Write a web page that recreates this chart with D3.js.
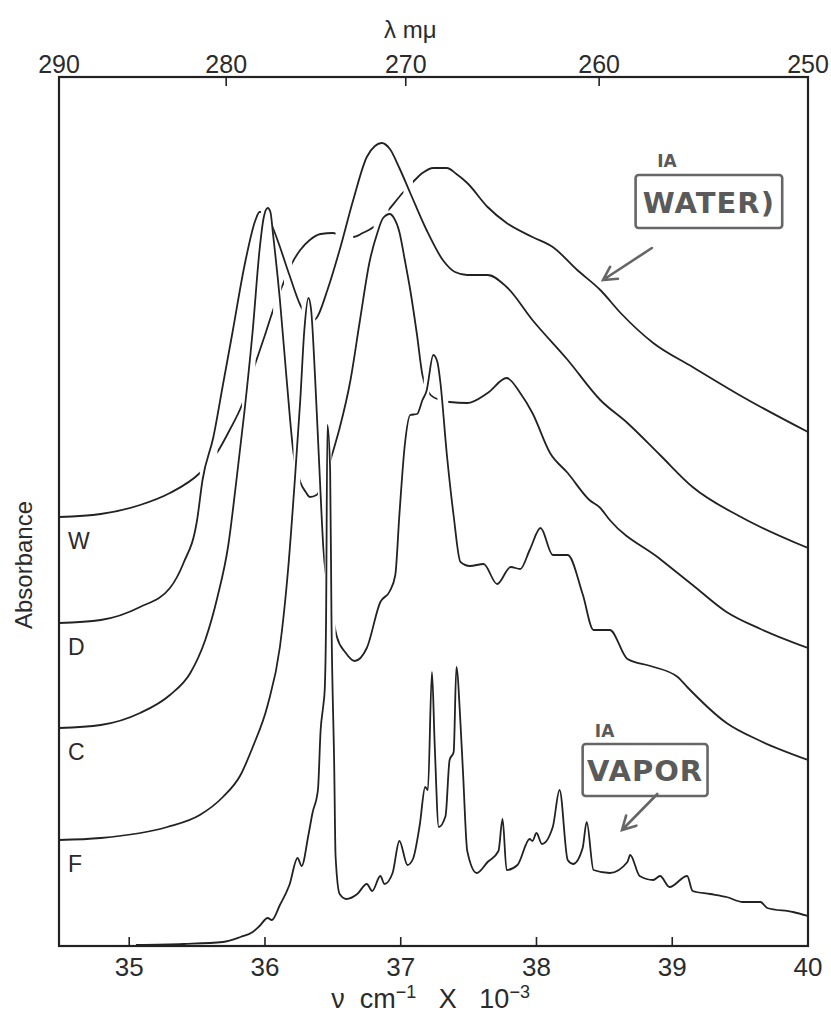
<!doctype html>
<html lang="en">
<head>
<meta charset="utf-8">
<title>Absorbance spectra</title>
<script src="https://d3js.org/d3.v7.min.js"></script>
<style>
  body { margin: 0; background: #fff; }
  text { font-family: "Liberation Sans", Arial, sans-serif; fill: #2b2b2b; }
  .note { font-family: "DejaVu Sans", sans-serif; font-weight: bold; fill: #5a5a5a; }
</style>
</head>
<body>
<div id="chart"></div>
<script>
// ---- data: wavenumber (x 10^3 cm-1), absorbance (arbitrary, curves offset) ----
const nuTicks = [35, 36, 37, 38, 39, 40];
const lambdaTicks = [290, 280, 270, 260, 250];
const curveNames = ["W", "D", "C", "F"];

const curveW = [[34.48,4.29],[34.79,4.32],[35.08,4.41],[35.30,4.53],[35.52,4.73],[35.65,4.94],[35.74,5.16],
  [35.83,5.41],[35.93,5.83],[36.00,6.11],[36.06,6.36],[36.13,6.61],[36.20,6.83],[36.26,6.96],[36.33,7.06],
  [36.41,7.12],[36.50,7.13],[36.58,7.10],[36.65,7.09],[36.72,7.13],[36.80,7.19],[36.91,7.36],[37.02,7.54],
  [37.09,7.64],[37.16,7.73],[37.24,7.78],[37.34,7.78],[37.41,7.72],[37.49,7.63],[37.64,7.39],[37.78,7.23],
  [37.97,7.09],[38.12,6.99],[38.30,6.76],[38.47,6.56],[38.62,6.33],[38.86,6.03],[39.15,5.79],[39.52,5.49],[40.00,5.14]];

const curveD = [[34.48,3.23],[34.79,3.26],[35.08,3.39],[35.30,3.58],[35.40,3.83],[35.50,4.26],[35.54,4.66],
  [35.62,5.09],[35.69,5.61],[35.76,6.13],[35.85,6.81],[35.93,7.26],[35.96,7.34],[36.00,7.34],[36.05,7.21],
  [36.10,7.03],[36.18,6.71],[36.26,6.41],[36.32,6.28],[36.35,6.25],[36.38,6.28],[36.46,6.56],[36.55,6.96],
  [36.65,7.46],[36.75,7.89],[36.81,8.00],[36.86,8.03],[36.92,7.97],[36.99,7.78],[37.07,7.53],[37.19,7.16],
  [37.31,6.86],[37.40,6.74],[37.49,6.71],[37.64,6.71],[37.78,6.59],[37.97,6.26],[38.23,5.86],[38.47,5.46],
  [38.67,5.23],[38.91,4.91],[39.15,4.59],[39.52,4.28],[40.00,3.98]];

const curveC = [[34.48,2.18],[34.79,2.21],[35.08,2.33],[35.30,2.51],[35.45,2.73],[35.56,3.06],[35.65,3.49],
  [35.73,4.01],[35.79,4.66],[35.85,5.36],[35.91,6.16],[35.96,6.96],[35.99,7.28],[36.02,7.38],[36.04,7.34],
  [36.06,7.11],[36.11,6.46],[36.16,5.66],[36.21,4.93],[36.26,4.64],[36.30,4.54],[36.33,4.49],[36.38,4.51],
  [36.44,4.68],[36.50,4.94],[36.55,5.18],[36.63,5.66],[36.70,6.26],[36.77,6.84],[36.83,7.14],[36.87,7.28],
  [36.92,7.32],[36.95,7.28],[36.99,7.14],[37.03,6.86],[37.07,6.56],[37.12,6.11],[37.16,5.71],[37.22,5.51],
  [37.29,5.46],[37.36,5.44],[37.49,5.43],[37.64,5.53],[37.78,5.68],[37.88,5.53],[37.97,5.33],[38.10,4.93],
  [38.23,4.73],[38.39,4.46],[38.47,4.38],[38.54,4.26],[38.91,3.87],[39.15,3.61],[39.40,3.34],[39.65,3.17],[40.00,2.98]];

const curveF = [[34.48,1.06],[34.79,1.08],[35.28,1.19],[35.52,1.31],[35.69,1.49],[35.82,1.71],[35.91,1.99],
  [36.02,2.41],[36.11,2.99],[36.17,3.76],[36.22,4.66],[36.26,5.46],[36.29,6.16],[36.32,6.48],[36.34,6.36],
  [36.37,5.66],[36.40,4.80],[36.43,3.98],[36.48,3.46],[36.53,3.09],[36.59,2.94],[36.66,2.85],[36.75,2.98],
  [36.85,3.44],[36.92,3.55],[36.96,3.71],[36.99,4.31],[37.03,5.01],[37.07,5.31],[37.12,5.32],[37.16,5.46],
  [37.19,5.55],[37.24,5.91],[37.27,5.84],[37.29,5.66],[37.34,4.91],[37.39,4.30],[37.44,3.84],[37.51,3.80],
  [37.61,3.82],[37.71,3.62],[37.81,3.79],[37.88,3.77],[37.95,3.96],[38.03,4.18],[38.12,3.91],[38.23,3.91],
  [38.34,3.52],[38.42,3.16],[38.54,3.16],[38.67,2.87],[38.84,2.80],[39.04,2.69],[39.11,2.59],[39.40,2.23],
  [39.65,2.05],[40.00,1.86]];

const curveVapor = [[35.05,0.01],[35.40,0.02],[35.69,0.04],[35.82,0.09],[35.91,0.14],[35.96,0.20],[36.02,0.28],
  [36.05,0.26],[36.11,0.41],[36.18,0.61],[36.24,0.88],[36.27,0.80],[36.32,1.11],[36.35,1.33],[36.39,1.56],
  [36.41,2.16],[36.43,2.41],[36.44,2.56],[36.45,3.26],[36.46,5.21],[36.48,4.76],[36.49,3.26],[36.51,1.80],
  [36.52,0.90],[36.55,0.52],[36.60,0.47],[36.68,0.52],[36.75,0.62],[36.79,0.55],[36.85,0.70],[36.88,0.62],
  [36.94,0.73],[36.99,1.05],[37.05,0.81],[37.09,0.87],[37.14,1.21],[37.18,1.59],[37.20,1.56],[37.23,2.74],
  [37.25,2.02],[37.28,1.19],[37.33,1.30],[37.36,1.86],[37.39,1.94],[37.41,2.79],[37.44,2.23],[37.46,1.70],
  [37.49,0.95],[37.56,0.73],[37.64,0.84],[37.72,0.95],[37.75,1.27],[37.78,0.76],[37.86,0.81],[37.95,1.07],
  [37.97,1.05],[38.00,1.13],[38.04,1.02],[38.12,1.19],[38.17,1.56],[38.23,0.86],[38.27,0.82],[38.34,0.98],
  [38.37,1.24],[38.42,0.76],[38.54,0.73],[38.67,0.84],[38.69,0.91],[38.76,0.70],[38.86,0.66],[38.91,0.70],
  [38.98,0.59],[39.11,0.70],[39.15,0.55],[39.28,0.52],[39.40,0.49],[39.52,0.44],[39.65,0.44],[39.70,0.38],
  [39.89,0.34],[40.00,0.30]];

// pen lifts where the traces cross each other (wavenumber ranges left blank)
const gapsW = [[35.52,35.65],[35.83,35.93],[36.06,36.12],[36.14,36.20],[36.52,36.65],[36.80,36.91],[37.02,37.09]];
const gapsD = [[35.97,36.06],[36.27,36.37]];
const gapsC = [[36.21,36.26],[36.39,36.49],[37.17,37.21],[37.27,37.35]];
const gapsF = [[36.44,36.52]];

const margin = {top: 77, right: 23, bottom: 71, left: 59},
      width = 831 - margin.left - margin.right,
      height = 1017 - margin.top - margin.bottom;

const svg = d3.select("#chart").append("svg")
  .attr("width", 831).attr("height", 1017)
  .append("g")
  .attr("transform", `translate(${margin.left},${margin.top})`);

const x = d3.scaleLinear().domain([10000 / 290, 40]).range([0, width]);
const y = d3.scaleLinear().domain([0, 8.69]).range([height, 0]);

// frame
svg.append("rect")
  .attr("width", width).attr("height", height)
  .attr("fill", "none").attr("stroke", "#222").attr("stroke-width", 2.2);

// bottom axis (wavenumber)
svg.append("g").selectAll("line").data(nuTicks.slice(0, -1)).join("line")
  .attr("x1", d => x(d)).attr("x2", d => x(d))
  .attr("y1", height).attr("y2", height - 9)
  .attr("stroke", "#222").attr("stroke-width", 1.6);
svg.append("g").selectAll("text").data(nuTicks).join("text")
  .attr("x", d => x(d)).attr("y", height + 30)
  .attr("text-anchor", "middle").style("font-size", "26px")
  .text(d => d);

// top axis (wavelength in m-mu, nonlinear)
svg.append("g").selectAll("line").data(lambdaTicks.slice(1, -1)).join("line")
  .attr("x1", d => x(10000 / d)).attr("x2", d => x(10000 / d))
  .attr("y1", 0).attr("y2", 9)
  .attr("stroke", "#222").attr("stroke-width", 1.6);
svg.append("g").selectAll("text").data(lambdaTicks).join("text")
  .attr("x", d => x(10000 / d)).attr("y", -4)
  .attr("text-anchor", "middle").style("font-size", "25px")
  .text(d => d);

// axis titles
svg.append("text")
  .attr("x", x(37.07)).attr("y", -39)
  .attr("text-anchor", "middle").style("font-size", "24px")
  .text("λ mμ");

const xt = svg.append("text")
  .attr("x", x(37.22)).attr("y", height + 62)
  .attr("text-anchor", "middle").style("font-size", "27px")
  .style("white-space", "pre");
xt.append("tspan").text("ν  cm");
xt.append("tspan").attr("dy", -10).style("font-size", "18px").text("−1");
xt.append("tspan").attr("dy", 10).text("   X   10");
xt.append("tspan").attr("dy", -10).style("font-size", "18px").text("−3");

svg.append("text")
  .attr("transform", `translate(-27,${y(3.81)}) rotate(-90)`)
  .attr("text-anchor", "middle").style("font-size", "24px")
  .text("Absorbance");

// curves
const line = d3.line()
  .x(d => x(d[0])).y(d => y(d[1]))
  .curve(d3.curveMonotoneX);

const traces = [
  {id: "w", data: curveW, gaps: gapsW},
  {id: "d", data: curveD, gaps: gapsD},
  {id: "c", data: curveC, gaps: gapsC},
  {id: "f", data: curveF, gaps: gapsF},
  {id: "v", data: curveVapor, gaps: []}
];

const defs = svg.append("defs");
traces.forEach(t => {
  const ranges = [];
  let start = x.domain()[0];
  t.gaps.forEach(g => { ranges.push([start, g[0]]); start = g[1]; });
  ranges.push([start, x.domain()[1]]);
  defs.append("clipPath").attr("id", "clip-" + t.id)
    .selectAll("rect").data(ranges).join("rect")
      .attr("x", d => x(d[0])).attr("width", d => x(d[1]) - x(d[0]))
      .attr("y", -5).attr("height", height + 10);

  svg.append("path")
    .datum(t.data)
    .attr("clip-path", `url(#clip-${t.id})`)
    .attr("fill", "none")
    .attr("stroke", "#222")
    .attr("stroke-width", 1.8)
    .attr("stroke-linejoin", "round")
    .attr("d", line);
});

// curve letters at the left
svg.append("g").selectAll("text").data(curveNames).join("text")
  .attr("x", 9)
  .attr("y", (d, i) => y([curveW, curveD, curveC, curveF][i][0][1]) + 32)
  .style("font-size", "23px")
  .text(d => d);

// hand-written notes
function note(tag, word, box, arrow) {
  svg.append("text").attr("class", "note")
    .attr("x", x(tag[0])).attr("y", y(tag[1]))
    .style("font-size", "17px").text("IA");
  svg.append("rect")
    .attr("x", x(box[0])).attr("y", y(box[1]))
    .attr("width", x(box[2]) - x(box[0])).attr("height", y(box[3]) - y(box[1]))
    .attr("rx", 3)
    .attr("fill", "none").attr("stroke", "#666").attr("stroke-width", 2.6);
  svg.append("text").attr("class", "note")
    .attr("x", (x(box[0]) + x(box[2])) / 2).attr("y", (y(box[1]) + y(box[3])) / 2 + 11)
    .attr("text-anchor", "middle").style("font-size", "29px")
    .style("letter-spacing", "1px")
    .text(word);
  const x1 = x(arrow[0]), y1 = y(arrow[1]), x2 = x(arrow[2]), y2 = y(arrow[3]);
  const ang = Math.atan2(y2 - y1, x2 - x1);
  svg.append("path")
    .attr("d", `M${x1},${y1}L${x2},${y2}` +
      `M${x2 - 15 * Math.cos(ang - 0.5)},${y2 - 15 * Math.sin(ang - 0.5)}L${x2},${y2}` +
      `L${x2 - 15 * Math.cos(ang + 0.5)},${y2 - 15 * Math.sin(ang + 0.5)}`)
    .attr("fill", "none").attr("stroke", "#666").attr("stroke-width", 2.6)
    .attr("stroke-linecap", "round");
}
note([38.89, 7.79], "WATER)", [38.73, 7.71, 39.81, 7.18], [38.85, 6.98, 38.49, 6.66]);
note([38.43, 2.09], "VAPOR", [38.34, 2.02, 39.26, 1.50], [38.89, 1.52, 38.63, 1.16]);
</script>
</body>
</html>
